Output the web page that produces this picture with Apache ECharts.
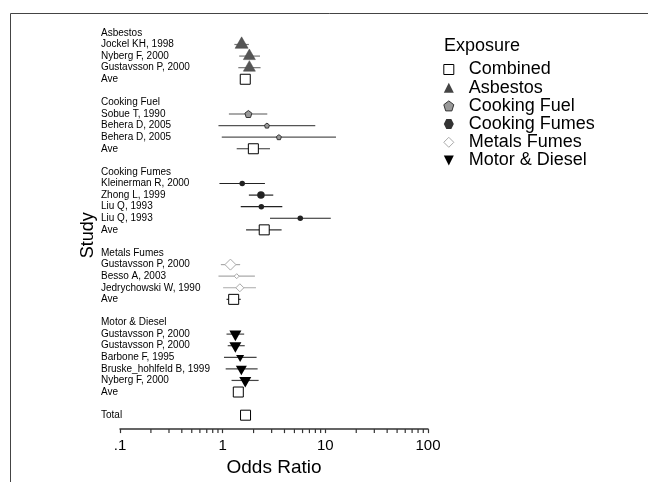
<!DOCTYPE html>
<html>
<head>
<meta charset="utf-8">
<script src="https://cdn.jsdelivr.net/npm/echarts@6/dist/echarts.min.js"></script>
<style>html,body{margin:0;padding:0;background:#fff}#chart{width:648px;height:482px}</style>
</head>
<body>
<div id="chart"></div>
<script>
// ---- data ----
const rowLabels = ['Asbestos','Jockel KH, 1998','Nyberg F, 2000','Gustavsson P, 2000','Ave','',
  'Cooking Fuel','Sobue T, 1990','Behera D, 2005','Behera D, 2005','Ave','',
  'Cooking Fumes','Kleinerman R, 2000','Zhong L, 1999','Liu Q, 1993','Liu Q, 1993','Ave','',
  'Metals Fumes','Gustavsson P, 2000','Besso A, 2003','Jedrychowski W, 1990','Ave','',
  'Motor & Diesel','Gustavsson P, 2000','Gustavsson P, 2000','Barbone F, 1995','Bruske_hohlfeld B, 1999','Nyberg F, 2000','Ave','',
  'Total'];
const legendNames = ['Combined','Asbestos','Cooking Fuel','Cooking Fumes','Metals Fumes','Motor & Diesel'];
const xTickValues = [0.1, 1, 10, 100];
const xTickLabels = ['.1', '1', '10', '100'];
const xMinorTicks = [0.2,0.3,0.4,0.5,0.6,0.7,0.8,0.9,2,3,4,5,6,7,8,9,20,30,40,50,60,70,80,90];

const asbestosRow = [1, 2, 3];
const asbestosOR  = [1.53, 1.82, 1.82];
const asbestosLo  = [1.30, 1.45, 1.42];
const asbestosHi  = [1.80, 2.31, 2.34];
const asbestosWt  = [13, 12, 12];

const fuelRow = [7, 8, 9];
const fuelOR  = [1.78, 2.70, 3.53];
const fuelLo  = [1.15, 0.91, 0.98];
const fuelHi  = [2.72, 7.98, 12.7];
const fuelWt  = [7, 5, 5];

const fumesRow = [13, 14, 15, 16];
const fumesOR  = [1.55, 2.36, 2.38, 5.70];
const fumesLo  = [0.93, 1.80, 1.50, 2.89];
const fumesHi  = [2.58, 3.11, 3.81, 11.3];
const fumesWt  = [5.5, 7.5, 5.5, 5.5];

const metalsRow = [20, 21, 22];
const metalsOR  = [1.19, 1.37, 1.47];
const metalsLo  = [0.96, 0.91, 1.01];
const metalsHi  = [1.48, 2.06, 2.11];
const metalsWt  = [11, 5, 8];

const motorRow = [26, 27, 28, 29, 30];
const motorOR  = [1.33, 1.33, 1.48, 1.52, 1.66];
const motorLo  = [1.09, 1.12, 1.03, 1.07, 1.22];
const motorHi  = [1.62, 1.64, 2.14, 2.19, 2.24];
const motorWt  = [12, 12, 8, 11, 12];

const combinedRow = [4, 10, 17, 23, 31, 33];
const combinedOR  = [1.66, 1.99, 2.54, 1.28, 1.42, 1.67];
const combinedLo  = [1.56, 1.37, 1.69, 1.09, 1.34, 1.58];
const combinedHi  = [1.77, 2.89, 3.75, 1.50, 1.51, 1.76];
const combinedWt  = [10, 10, 10, 10, 10, 10];

// ---- styles ----
const FONT = 'Liberation Sans, Arial, sans-serif';
const PENTAGON = 'path://M5,0 L10,3.8 L8.1,10 L1.9,10 L0,3.8 Z';
const HEXAGON = 'path://M2.5,0 L7.5,0 L10,5 L7.5,10 L2.5,10 L0,5 Z';
const DOWNTRI = 'path://M0,0 L10,0 L5,10 Z';

const groups = [
  {name:'Combined', row:combinedRow, or:combinedOR, lo:combinedLo, hi:combinedHi, wt:combinedWt,
   symbol:'rect', fill:'#fff', border:'#000', bw:1, line:'#333', off:0, aspect:1, z:5},
  {name:'Asbestos', row:asbestosRow, or:asbestosOR, lo:asbestosLo, hi:asbestosHi, wt:asbestosWt,
   symbol:'triangle', fill:'#555', border:'#444', bw:0.5, line:'#777', off:-1/6, aspect:0.88, z:4},
  {name:'Cooking Fuel', row:fuelRow, or:fuelOR, lo:fuelLo, hi:fuelHi, wt:fuelWt,
   symbol:PENTAGON, fill:'#999', border:'#333', bw:1, line:'#555', off:0, aspect:1, z:4},
  {name:'Cooking Fumes', row:fumesRow, or:fumesOR, lo:fumesLo, hi:fumesHi, wt:fumesWt,
   symbol:'circle', fill:'#222', border:'#222', bw:0, line:'#222', off:0, aspect:1, z:4},
  {name:'Metals Fumes', row:metalsRow, or:metalsOR, lo:metalsLo, hi:metalsHi, wt:metalsWt,
   symbol:'diamond', fill:'#fff', border:'#aaa', bw:1, line:'#aaa', off:0, aspect:1, z:4},
  {name:'Motor & Diesel', row:motorRow, or:motorOR, lo:motorLo, hi:motorHi, wt:motorWt,
   symbol:DOWNTRI, fill:'#000', border:'#000', bw:0, line:'#444', off:1/6, aspect:0.88, z:4}
];

const series = [];
groups.forEach(g => {
  series.push({
    type:'custom', name:g.name + ' CI', silent:true, z:2,
    data: g.row.map((r, i) => [g.lo[i], g.hi[i], r]),
    renderItem: (params, api) => {
      const p1 = api.coord([api.value(0), api.value(2)]);
      const p2 = api.coord([api.value(1), api.value(2)]);
      return {type:'line', shape:{x1:p1[0], y1:p1[1], x2:p2[0], y2:p2[1]},
              style:{stroke:g.line, lineWidth:1.2}};
    }
  });
  series.push({
    type:'scatter', name:g.name, z:g.z, silent:true,
    data: g.row.map((r, i) => ({
      value:[g.or[i], r],
      symbolSize:[g.wt[i], g.wt[i] * g.aspect],
      symbolOffset:[0, g.wt[i] * g.aspect * g.off]
    })),
    symbol:g.symbol,
    itemStyle:{color:g.fill, borderColor:g.border, borderWidth:g.bw, opacity:1}
  });
});

series.push({
  type:'custom', name:'minorTicks', silent:true, z:3,
  data: xMinorTicks.map(v => [v]),
  renderItem: (params, api) => {
    const x = api.coord([api.value(0), 0])[0];
    const yb = params.coordSys.y + params.coordSys.height;
    return {type:'line', shape:{x1:x, y1:yb, x2:x, y2:yb + 4},
            style:{stroke:'#333', lineWidth:1.2}};
  }
});

const legendIcons = {
  'Combined': {icon:'rect', itemStyle:{color:'#fff', borderColor:'#000', borderWidth:1}},
  'Asbestos': {icon:'triangle', itemStyle:{color:'#444', borderWidth:0}},
  'Cooking Fuel': {icon:PENTAGON, itemStyle:{color:'#999', borderColor:'#333', borderWidth:1}},
  'Cooking Fumes': {icon:HEXAGON, itemStyle:{color:'#333', borderWidth:0}},
  'Metals Fumes': {icon:'diamond', itemStyle:{color:'#fff', borderColor:'#aaa', borderWidth:1}},
  'Motor & Diesel': {icon:DOWNTRI, itemStyle:{color:'#000', borderWidth:0}}
};

const chart = echarts.init(document.getElementById('chart'), null, {renderer:'canvas'});
chart.setOption({
  backgroundColor:'#fff',
  animation:false,
  textStyle:{fontFamily:FONT},
  title:{text:'Exposure', left:439, top:32,
         textStyle:{fontSize:18, fontWeight:'normal', color:'#000', fontFamily:FONT}},
  legend:{
    orient:'vertical', left:443.3, top:60.5, padding:0,
    itemWidth:10, itemHeight:10, itemGap:0.2, selectedMode:false,
    textStyle:{fontSize:18, lineHeight:18, color:'#000', fontFamily:FONT, padding:[0,0,0,10]},
    data: legendNames.map(n => Object.assign({name:n}, legendIcons[n]))
  },
  graphic:[{type:'rect', shape:{x:10.5, y:13.5, width:700, height:600},
            style:{fill:'none', stroke:'#444', lineWidth:1}, silent:true}],
  grid:{left:120, right:220, top:21.33, bottom:50},
  xAxis:{
    type:'log', logBase:10, min:0.1, max:100, position:'bottom',
    axisLine:{show:true, onZero:false, lineStyle:{color:'#333', width:1.5}},
    axisTick:{show:true, length:4, lineStyle:{color:'#333', width:1.2}},
    splitLine:{show:false},
    axisLabel:{fontSize:15, margin:9, color:'#000', fontFamily:FONT,
      formatter: v => { const k = xTickValues.findIndex(t => Math.abs(t - v) < 1e-9 * Math.max(1, t)); return k >= 0 ? xTickLabels[k] : ''; }},
    name:'Odds Ratio', nameLocation:'middle', nameGap:27,
    nameTextStyle:{fontSize:19, color:'#000', fontFamily:FONT}
  },
  yAxis:{
    type:'value', inverse:true, min:-1, max:34.2, interval:1,
    axisLine:{show:false}, axisTick:{show:false}, splitLine:{show:false},
    axisLabel:{align:'left', margin:19, fontSize:10, color:'#000', fontFamily:FONT,
      showMinLabel:true, showMaxLabel:true,
      formatter: v => (Number.isInteger(v) && v >= 0 && v < rowLabels.length) ? rowLabels[v] : ''},
    name:'Study', nameLocation:'middle', nameGap:22,
    nameTextStyle:{fontSize:18, color:'#000', fontFamily:FONT, padding:[0,20,0,0]}
  },
  series: series
});
</script>
</body>
</html>
